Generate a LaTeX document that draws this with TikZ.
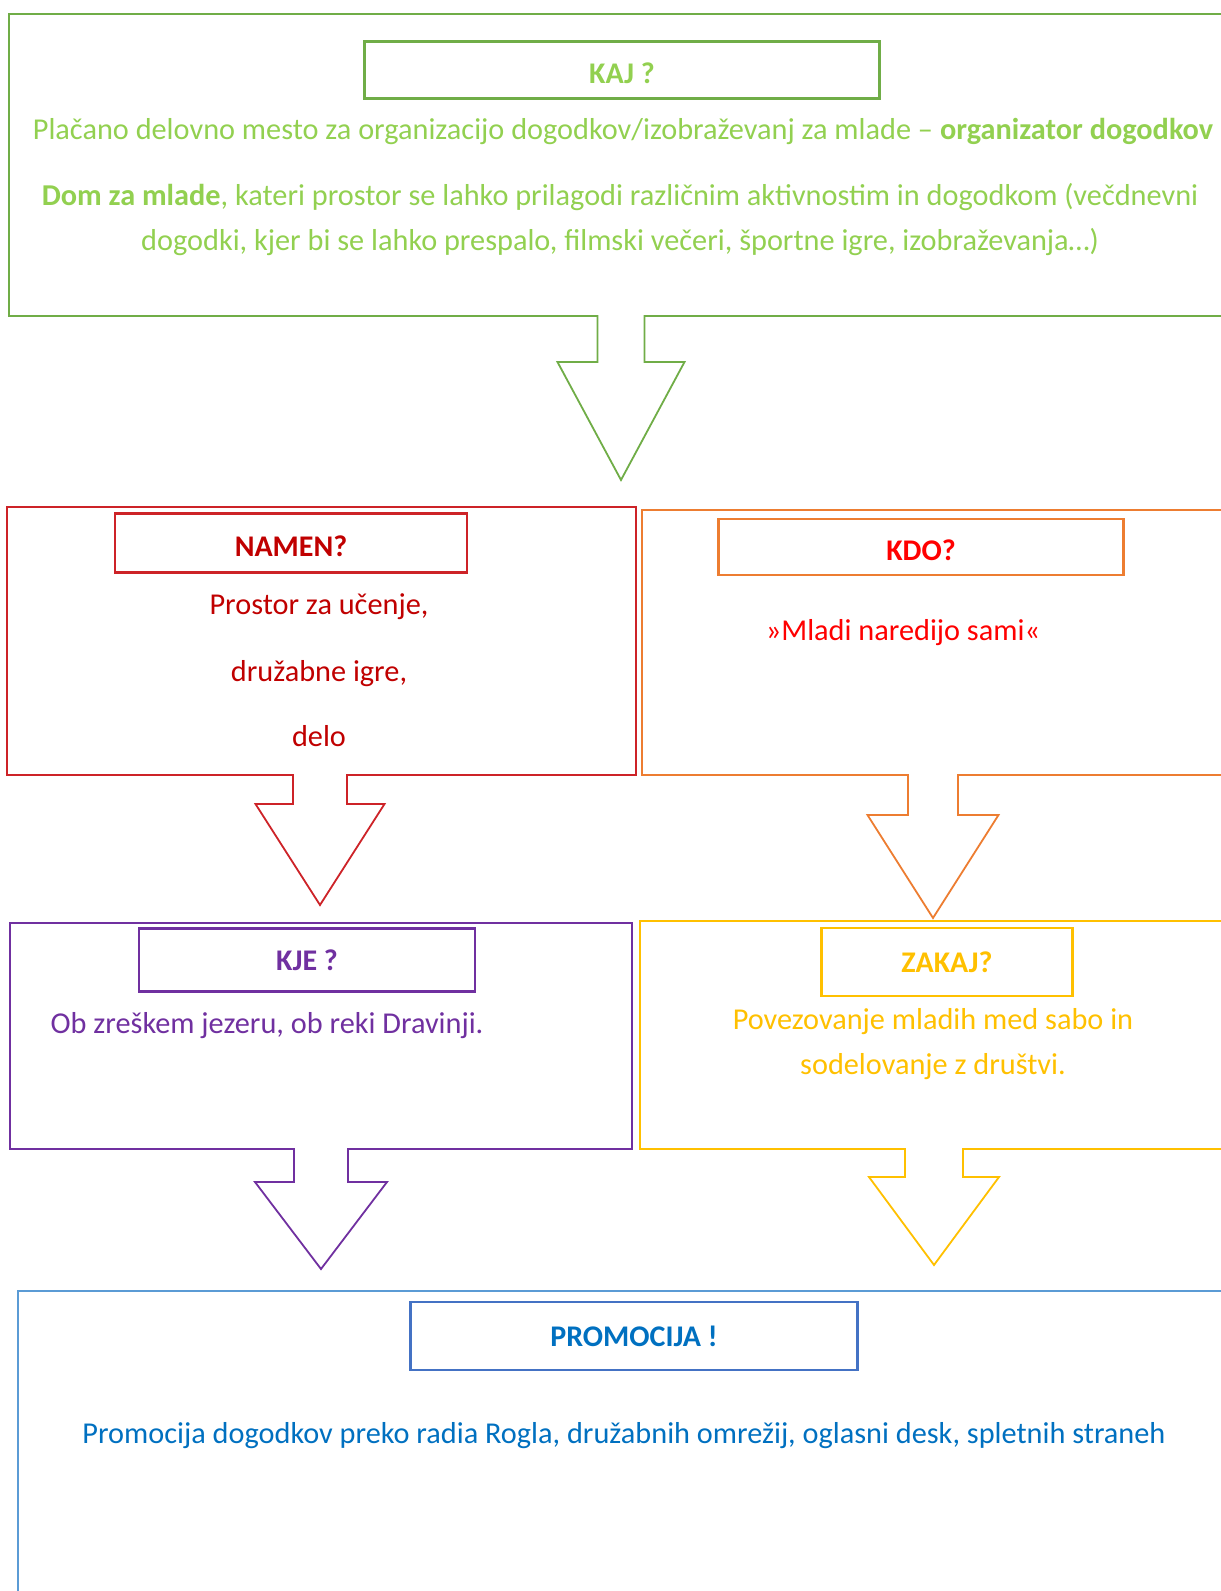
\documentclass[tikz,border=0pt]{standalone}
\usepackage{fontspec}
\setmainfont{Carlito}
\usepackage{tikz}

\definecolor{kajgreen}{HTML}{70AD47}
\definecolor{kajtext}{HTML}{92D050}
\definecolor{namenred}{RGB}{205,35,40}
\definecolor{namentext}{HTML}{C00000}
\definecolor{kdoorange}{HTML}{ED7D31}
\definecolor{kdotext}{HTML}{FF0000}
\definecolor{kjepurple}{HTML}{7030A0}
\definecolor{zakajyellow}{HTML}{FFC000}
\definecolor{promoblue}{HTML}{5B9BD5}
\definecolor{promobox}{HTML}{4472C4}
\definecolor{promotext}{HTML}{0070C0}

\begin{document}
\begin{tikzpicture}[x=1pt,y=-1pt]
                \tikzstyle{outer}=[draw,line width=2.2pt,inner sep=0pt,anchor=north west]
                \tikzstyle{heading}=[draw,line width=2.2pt,inner sep=0pt,font=\fontsize{30}{36}\selectfont\bfseries]
                \tikzstyle{lowtext}=[text height=27pt,text depth=0pt]
                \tikzstyle{body}=[inner sep=0pt,align=center,font=\fontsize{30.3}{45}\selectfont]
                \tikzstyle{arrowline}=[line width=1.8pt,line join=miter]
                \clip (0,0) rectangle (1221,1591);

                % outer boxes
                \node[outer,draw=kajgreen,minimum width=1232pt,minimum height=302pt] (kajbox) at (8,13) {};
                \node[outer,draw=namenred,minimum width=629pt,minimum height=268pt] (namenbox) at (6,506) {};
                \node[outer,draw=kdoorange,minimum width=599pt,minimum height=265pt] (kdobox) at (641,509) {};
                \node[outer,draw=kjepurple,minimum width=622pt,minimum height=226pt] (kjebox) at (9,922) {};
                \node[outer,draw=zakajyellow,minimum width=601pt,minimum height=228pt] (zakajbox) at (639,920) {};
                \node[outer,draw=promoblue,minimum width=1223pt,minimum height=330pt] (promobox) at (17,1290) {};

                % headings
                \node[heading,lowtext,draw=kajgreen,text=kajtext,minimum width=515pt,minimum height=57pt] (kaj) at (622,70) {KAJ ?};
                \node[heading,lowtext,draw=namenred,text=namentext,minimum width=352pt,minimum height=59pt] (namen) at (291,543) {NAMEN?};
                \node[heading,lowtext,draw=kdoorange,text=kdotext,minimum width=405pt,minimum height=56pt] (kdo) at (921,547) {KDO?};
                \node[heading,draw=kjepurple,text=kjepurple,minimum width=336pt,minimum height=63pt] (kje) at (307,960) {KJE ?};
                \node[heading,draw=zakajyellow,text=zakajyellow,minimum width=251pt,minimum height=68pt] (zakaj) at (947,962) {ZAKAJ?};
                \node[heading,draw=promobox,text=promotext,minimum width=447pt,minimum height=68pt] (promocija) at (634,1336) {PROMOCIJA !};

                % texts
                \node[body,text=kajtext] (kaj-1) at (623,131.5) {Plačano delovno mesto za organizacijo dogodkov/izobraževanj za mlade – \textbf{organizator dogodkov}};
                \node[body,text=kajtext] (kaj-2) at (620,219.5) {\textbf{Dom za mlade}, kateri prostor se lahko prilagodi različnim aktivnostim in dogodkom (večdnevni\\dogodki, kjer bi se lahko prespalo, filmski večeri, športne igre, izobraževanja…)};
                \foreach \num/\y/\txt in {1/606.5/{Prostor za učenje,}, 2/673.5/{družabne igre,}, 3/736/{delo}}
                        \node[body,text=namentext] (namen-\num) at (319,\y) {\txt};
                \node[body,text=kdotext] (kdo-1) at (903,633) {»Mladi naredijo sami«};
                \node[body,text=kjepurple] (kje-1) at (267,1026) {Ob zreškem jezeru, ob reki Dravinji.};
                \node[body,text=zakajyellow] (zakaj-1) at (933,1044.5) {Povezovanje mladih med sabo in\\sodelovanje z društvi.};
                \node[body,text=promotext] (promocija-1) at (624,1435.5) {Promocija dogodkov preko radia Rogla, družabnih omrežij, oglasni desk, spletnih straneh};

                % block arrows
                \foreach \num/\col/\x/\ya/\yb/\yc/\s/\h in {1/kajgreen/621/315/362/480/23.5/63.5, 2/namenred/320/774/804/905/27/64.5, 3/kdoorange/933/774/815/918/25/65.5, 4/kjepurple/321/1148/1182/1269/27/66, 5/zakajyellow/934/1148/1177/1265/29/65}{
                        \coordinate (tip-\num) at (\x,\yc);
                        \fill[white] (\x-\s,\ya-3) -- (\x-\s,\yb) -- (\x-\h,\yb) -- (tip-\num) -- (\x+\h,\yb) -- (\x+\s,\yb) -- (\x+\s,\ya-3) -- cycle;
                        \draw[\col,arrowline] (\x-\s,\ya) -- (\x-\s,\yb) -- (\x-\h,\yb) -- (tip-\num) -- (\x+\h,\yb) -- (\x+\s,\yb) -- (\x+\s,\ya);
                }
\end{tikzpicture}
\end{document}
